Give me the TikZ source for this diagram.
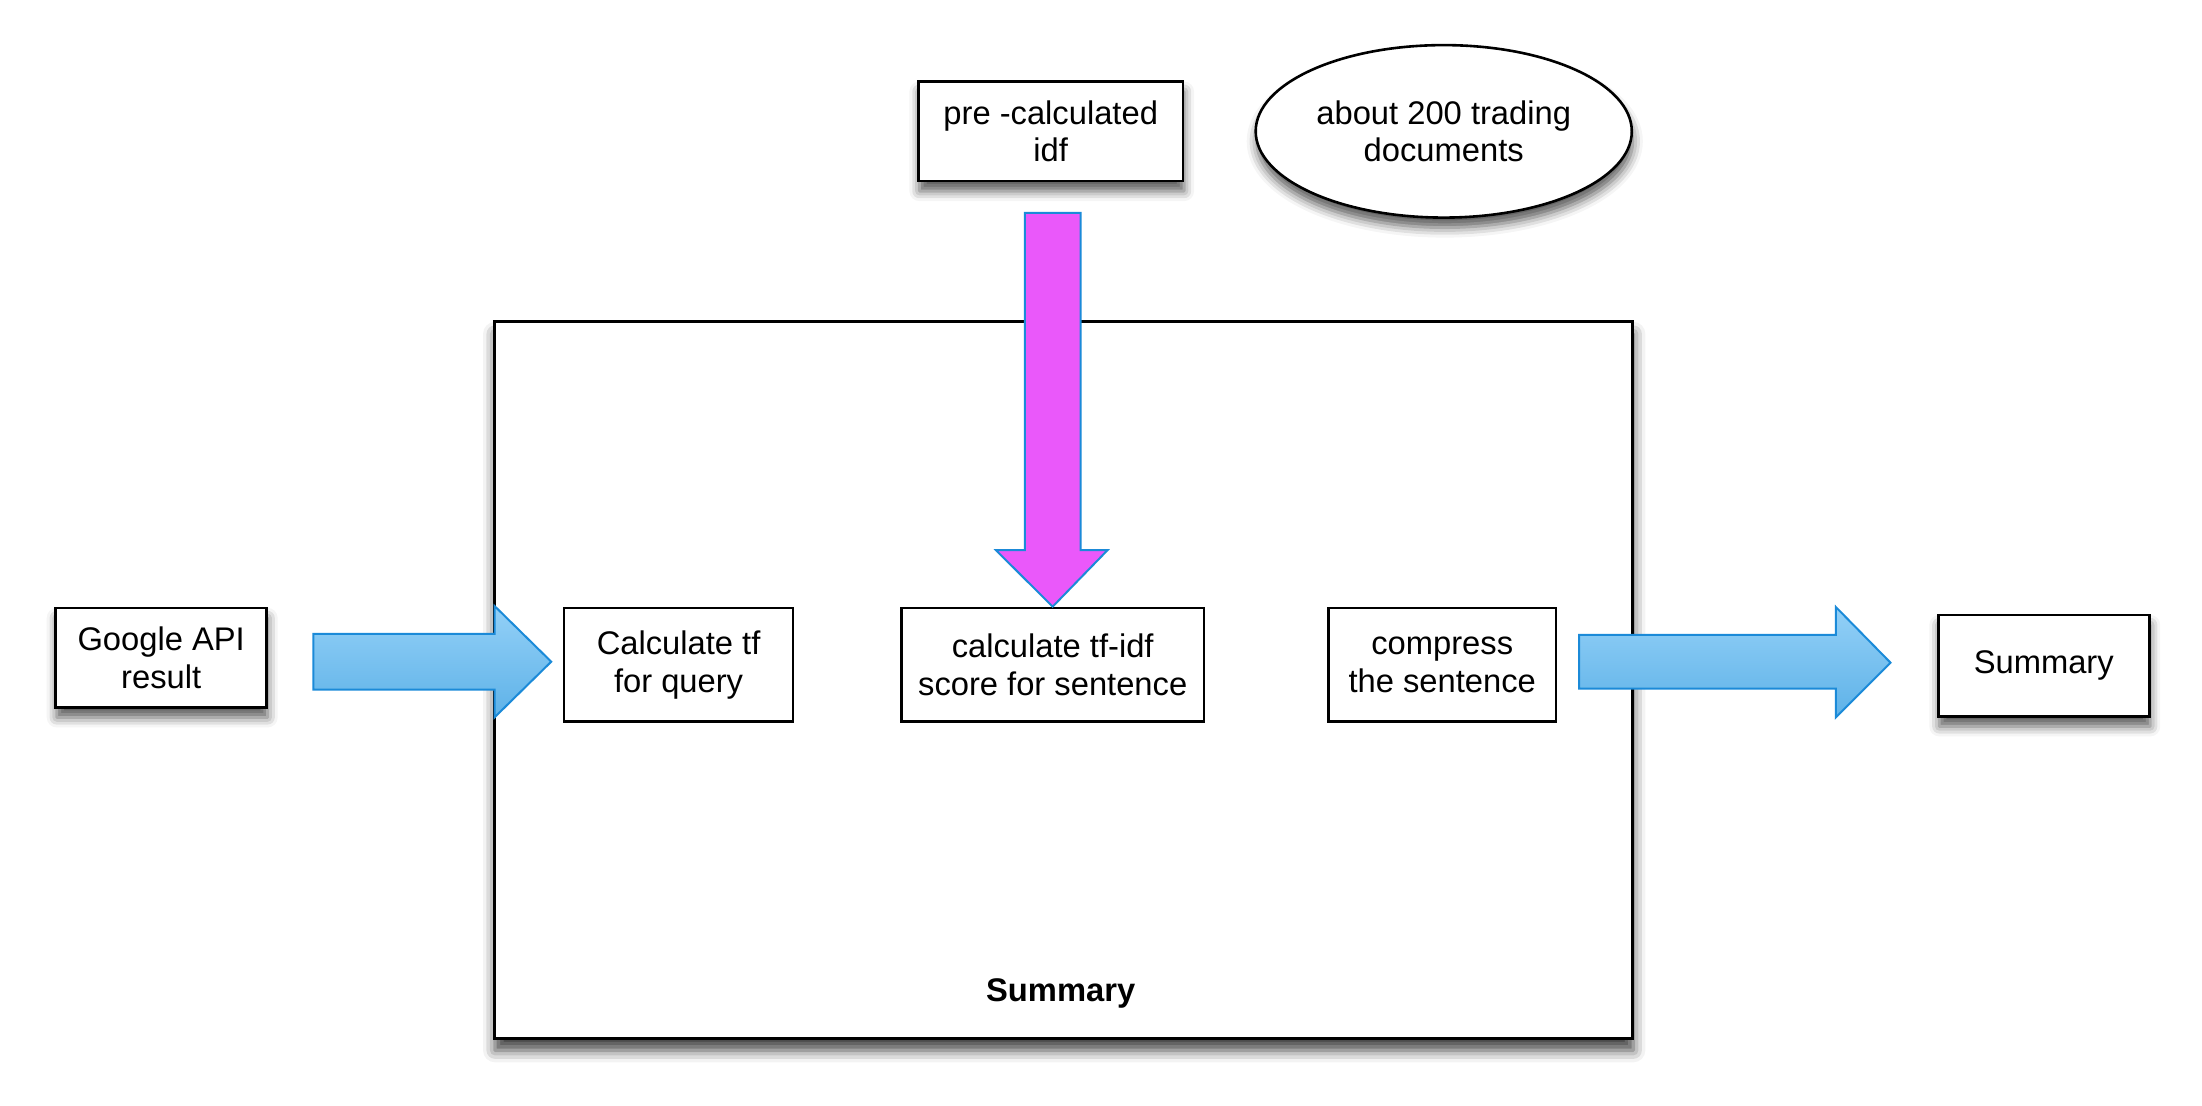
\documentclass[tikz,border=0pt]{standalone}
\usepackage{fontspec}
\setmainfont{Liberation Sans}
\usetikzlibrary{shadows,shadows.blur,shapes.geometric}
\definecolor{arrowedge}{HTML}{1B8AD8}
\definecolor{arrowtop}{HTML}{93D0F7}
\definecolor{arrowbot}{HTML}{5EB2E8}
\definecolor{magentafill}{HTML}{EA58FA}
\tikzset{
  boxshadow/.style={blur shadow={shadow xshift=0.5bp, shadow yshift=-5bp, shadow blur radius=5bp, shadow opacity=65}},
  bigshadow/.style={blur shadow={shadow xshift=0.5bp, shadow yshift=-6bp, shadow blur radius=6bp, shadow opacity=75}},
  procbox/.style={draw=black, line width=1.3bp, fill=white, rectangle, align=center,
    font=\fontsize{16.5}{19.1}\selectfont, inner sep=0pt},
  blockarrow/.style={draw=arrowedge, line width=1bp, top color=arrowtop, bottom color=arrowbot, line join=miter},
  downarrow/.style={draw=arrowedge, line width=1bp, fill=magentafill, line join=miter}
}
\begin{document}
\begin{tikzpicture}[x=0.5bp,y=-0.5bp]
\useasboundingbox (0,0) rectangle (2202,1105);
\begin{scope}[scale=0.995, transform shape]
% big container
\node[draw=black, line width=1.5bp, fill=white, rectangle, minimum width=572bp, minimum height=360bp, inner sep=0pt, bigshadow, anchor=north west] (big) at (495,322) {};
\node[font=\bfseries\fontsize{16.5}{19.1}\selectfont] (biglabel) at (1066,998) {Summary};
% boxes
\node[procbox, boxshadow, minimum width=106bp, minimum height=50bp] (google) at (162,661) {Google API\\result};
\node[procbox, minimum width=115bp, minimum height=57bp] (tf) at (682,668) {Calculate tf\\for query};
\node[procbox, minimum width=152bp, minimum height=57bp] (tfidf) at (1058,668) {calculate tf-idf\\score for sentence};
\node[procbox, minimum width=114.5bp, minimum height=57bp] (compress) at (1449.5,668) {compress\\the sentence};
\node[procbox, boxshadow, minimum width=106bp, minimum height=51bp] (sumout) at (2054,669) {Summary};
\node[procbox, boxshadow, minimum width=133bp, minimum height=50bp] (idf) at (1056,132) {pre -calculated\\idf};
\node[procbox, ellipse, boxshadow, minimum width=189bp, minimum height=87pt] (docs) at (1451,132) {about 200 trading\\documents};
% block arrows
\draw[blockarrow] (315,637) -- (497,637) -- (497,609) -- (554,665) -- (497,721) -- (497,693) -- (315,693) -- cycle;
\draw[blockarrow] (1587,638) -- (1845,638) -- (1845,610) -- (1900,666) -- (1845,721) -- (1845,692) -- (1587,692) -- cycle;
\draw[downarrow] (1030,214) -- (1086,214) -- (1086,553) -- (1113,553) -- (tfidf.north) -- (1001,553) -- (1030,553) -- cycle;
\end{scope}
\end{tikzpicture}
\end{document}
